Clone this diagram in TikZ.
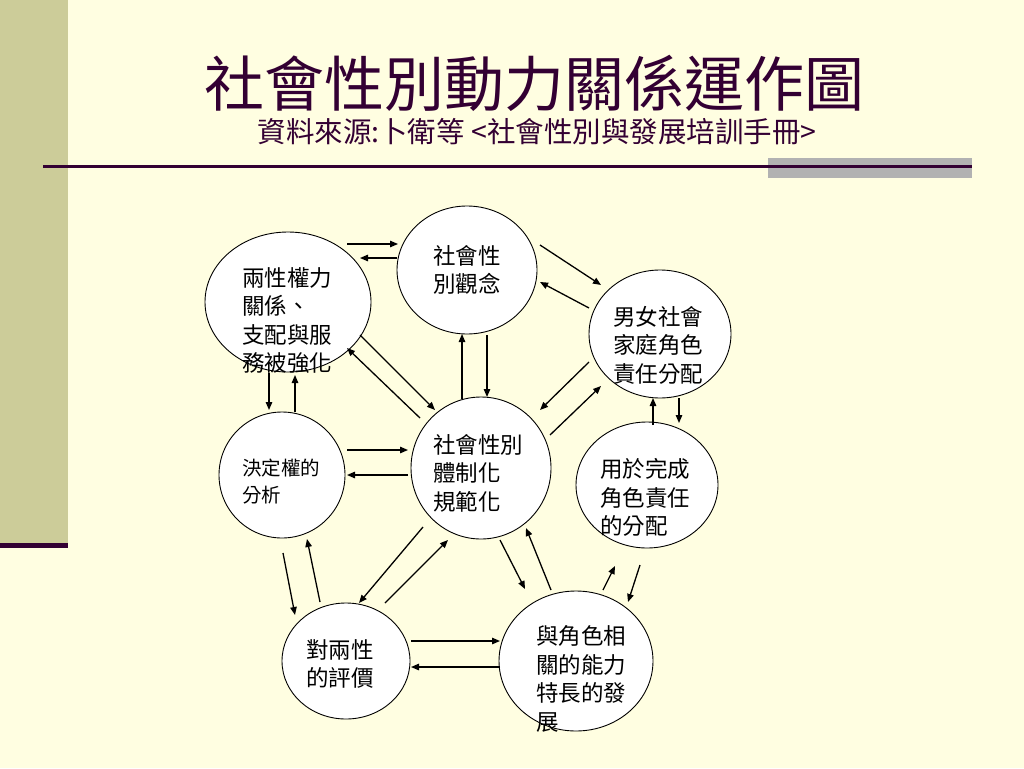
\documentclass[tikz,border=0pt]{standalone}
\usepackage{fontspec}
\setmainfont{Noto Sans CJK TC}
\usetikzlibrary{arrows.meta,shapes.geometric}
\definecolor{bg}{HTML}{FFFEE1}
\definecolor{khaki}{HTML}{CCCC99}
\definecolor{plum}{HTML}{330033}
\definecolor{greybar}{HTML}{B2B2B2}
\begin{document}
\begin{tikzpicture}[x=1pt,y=-1pt,
  circ/.style={draw=black, line width=0.9pt, fill=white, ellipse, inner sep=0pt},
  lbl/.style={anchor=west, align=left, inner sep=0pt, font=\fontsize{22.5}{28.5}\selectfont},
  arr/.style={line width=1.3pt, -{Triangle[length=8pt,width=6.5pt]}}]
\useasboundingbox (0,0) rectangle (1024,768);
\fill[bg] (0,0) rectangle (1024,768);
\fill[khaki] (0,0) rectangle (68,543);
\fill[plum] (0,543) rectangle (68,548);
\fill[greybar] (768,158) rectangle (972,178);
\draw[plum, line width=3pt] (43,166) -- (972,166);

\node[text=plum, font=\fontsize{60}{62}\selectfont, inner sep=0pt] (title) at (534,83) {社會性別動力關係運作圖};
\node[text=plum, font=\fontsize{28.5}{30}\selectfont, inner sep=0pt] (subtitle) at (537,132) {資料來源:卜衛等 <社會性別與發展培訓手冊>};

% circles
\node[circ, minimum width=166pt, minimum height=140pt] (n1) at (288,302) {};
\node[circ, minimum width=140pt, minimum height=128pt] (n2) at (467,270) {};
\node[circ, minimum width=142pt, minimum height=128pt] (n3) at (660,334) {};
\node[circ, minimum width=142pt, minimum height=126pt] (n4) at (647,485) {};
\node[circ, minimum width=140pt, minimum height=142pt] (n5) at (481,468) {};
\node[circ, minimum width=126pt, minimum height=126pt] (n6) at (282,475) {};
\node[circ, minimum width=128pt, minimum height=116pt] (n7) at (346,661) {};
\node[circ, minimum width=154pt, minimum height=140pt] (n8) at (576,661) {};

% labels
\node[lbl] (t1) at (242,320.5) {兩性權力\\關係、\\支配與服\\務被強化};
\node[lbl] (t2) at (433,270) {社會性\\別觀念};
\node[lbl] (t3) at (613,345) {男女社會\\家庭角色\\責任分配};
\node[lbl] (t4) at (600,497.5) {用於完成\\角色責任\\的分配};
\node[lbl] (t5) at (433,473) {社會性別\\體制化\\規範化};
\node[lbl, font=\fontsize{19.5}{27}\selectfont] (t6) at (242,481.5) {決定權的\\分析};
\node[lbl] (t7) at (306,664) {對兩性\\的評價};
\node[lbl] (t8) at (536,679) {與角色相\\關的能力\\特長的發\\展};

% arrows
\draw[arr] ([shift={(59,-58)}]n1.center) -- ([shift={(-69,-26)}]n2.center);
\draw[arr] ([shift={(-70,-12)}]n2.center) -- ([shift={(72,-44)}]n1.center);
\draw[arr] ([shift={(73,-25)}]n2.center) -- ([shift={(-59,-49)}]n3.center);
\draw[arr] ([shift={(-71,-26)}]n3.center) -- ([shift={(73,12)}]n2.center);
\draw[arr] ([shift={(-71,28)}]n3.center) -- ([shift={(59,-58)}]n5.center);
\draw[arr] ([shift={(69,-33)}]n5.center) -- ([shift={(-59,52)}]n3.center);
\draw[arr] ([shift={(6,-60)}]n4.center) -- ([shift={(-7,64)}]n3.center);
\draw[arr] ([shift={(19,64)}]n3.center) -- ([shift={(32,-62)}]n4.center);
\draw[arr] ([shift={(-19,-69)}]n5.center) -- ([shift={(-5,64)}]n2.center);
\draw[arr] ([shift={(20,65)}]n2.center) -- ([shift={(6,-71)}]n5.center);
\draw[arr] ([shift={(72,33)}]n1.center) -- ([shift={(-46,-58)}]n5.center);
\draw[arr] ([shift={(-61,-50)}]n5.center) -- ([shift={(59,46)}]n1.center);
\draw[arr] ([shift={(-19,71)}]n1.center) -- ([shift={(-13,-65)}]n6.center);
\draw[arr] ([shift={(13,-63)}]n6.center) -- ([shift={(7,73)}]n1.center);
\draw[arr] ([shift={(65,-25)}]n6.center) -- ([shift={(-73,-18)}]n5.center);
\draw[arr] ([shift={(-73,7)}]n5.center) -- ([shift={(65,0)}]n6.center);
\draw[arr] ([shift={(1,78)}]n6.center) -- ([shift={(-51,-46)}]n7.center);
\draw[arr] ([shift={(-26,-59)}]n7.center) -- ([shift={(25,64)}]n6.center);
\draw[arr] ([shift={(-58,59)}]n5.center) -- ([shift={(13,-58)}]n7.center);
\draw[arr] ([shift={(39,-58)}]n7.center) -- ([shift={(-33,72)}]n5.center);
\draw[arr] ([shift={(19,72)}]n5.center) -- ([shift={(-51,-72)}]n8.center);
\draw[arr] ([shift={(-25,-71)}]n8.center) -- ([shift={(45,60)}]n5.center);
\draw[arr] ([shift={(65,-20)}]n7.center) -- ([shift={(-76,-20)}]n8.center);
\draw[arr] ([shift={(-76,6)}]n8.center) -- ([shift={(65,6)}]n7.center);
\draw[arr] ([shift={(27,-71)}]n8.center) -- ([shift={(-32,81)}]n4.center);
\draw[arr] ([shift={(-7,80)}]n4.center) -- ([shift={(52,-59)}]n8.center);
\end{tikzpicture}
\end{document}
